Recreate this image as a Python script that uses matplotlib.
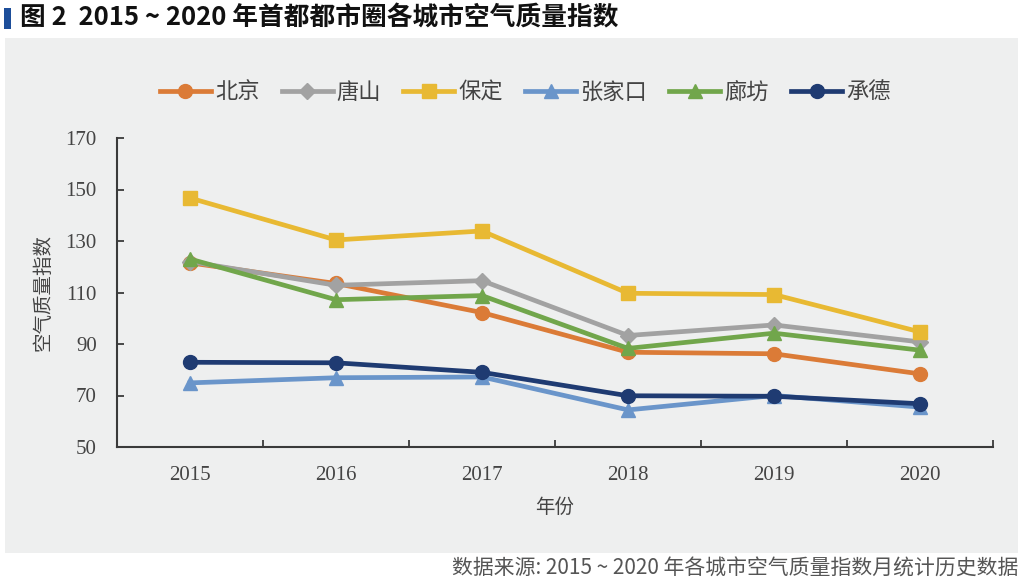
import matplotlib
matplotlib.use("Agg")
import matplotlib.pyplot as plt
from matplotlib.patches import Rectangle
import numpy as np

plt.rcParams['font.family'] = ['Noto Sans CJK SC', 'DejaVu Sans']

# 数据
years = ['2015', '2016', '2017', '2018', '2019', '2020']
beijing = [121.5, 113.5, 102.2, 86.8, 86.2, 78.4]
tangshan = [122.0, 112.8, 114.6, 93.3, 97.4, 90.8]
baoding = [146.7, 130.4, 133.9, 109.7, 109.2, 94.7]
zhangjiakou = [74.9, 76.9, 77.2, 64.4, 70.0, 65.5]
langfang = [123.0, 107.2, 108.8, 88.3, 94.2, 87.6]
chengde = [82.9, 82.7, 79.0, 69.9, 69.7, 66.8]

series = [
    ('北京', beijing, '#DB7B37', 'o'),
    ('唐山', tangshan, '#A2A2A2', 'D'),
    ('保定', baoding, '#E8B933', 's'),
    ('张家口', zhangjiakou, '#6A95CA', '^'),
    ('廊坊', langfang, '#71A64B', '^'),
    ('承德', chengde, '#1F3B72', 'o'),
]

fig = plt.figure(figsize=(10.24, 5.85), dpi=100)
fig.patch.set_facecolor('white')

# 灰色背景
bg = Rectangle((5 / 1024, 1 - 553 / 585), 1013 / 1024, 515 / 585,
               transform=fig.transFigure, facecolor='#EEEFEF', edgecolor='none', zorder=-10)
fig.patches.append(bg)

# 标题
fig.patches.append(Rectangle((4 / 1024, 1 - 29 / 585), 7 / 1024, 21 / 585,
                             transform=fig.transFigure, facecolor='#1D4E9A', edgecolor='none',
                             zorder=-5))
fig.text(20 / 1024, 1 - 18 / 585, '图 2  2015 ~ 2020 年首都都市圈各城市空气质量指数',
         fontsize=18.5, fontweight='bold', va='center', ha='left', color='#111111')

ax = fig.add_axes([117 / 1024, 1 - 447 / 585, 876 / 1024, 309 / 585])
ax.set_facecolor('none')

x = np.arange(len(years))
for name, vals, color, marker in series:
    ms = 10 if marker != 'D' else 8
    ax.plot(x, vals, color=color, lw=3.4, marker=marker, ms=ms,
            markeredgecolor=color, label=name)

ax.set_xlim(-0.5, len(years) - 0.5)
ax.set_ylim(50, 170)
ax.set_yticks(np.arange(50, 171, 20))
ax.set_xticks(x)
ax.set_xticklabels(years)
ax.set_xticks(np.arange(0.5, len(years), 1.0), minor=True)

for sp in ['top', 'right']:
    ax.spines[sp].set_visible(False)
for sp in ['left', 'bottom']:
    ax.spines[sp].set_color('#3A3A3A')
    ax.spines[sp].set_linewidth(1.5)

ax.tick_params(axis='y', direction='in', length=5, width=1.3, color='#3A3A3A', pad=14.5)
ax.tick_params(axis='x', which='major', length=0, pad=14)
ax.tick_params(axis='x', which='minor', direction='in', length=5, width=1.3, color='#3A3A3A')

for lab in ax.get_xticklabels() + ax.get_yticklabels():
    lab.set_fontfamily('Liberation Serif')
    lab.set_fontsize(15)
    lab.set_color('#444444')
for lab in ax.get_yticklabels():
    lab.set_horizontalalignment('right')

ax.set_xlabel('年份', fontsize=14, color='#444444', labelpad=8)
ax.set_ylabel('空气质量指数', fontsize=14, color='#444444', labelpad=9)

leg = ax.legend(loc='lower center', bbox_to_anchor=(0.466, 1.083), ncol=6, frameon=False,
                fontsize=16, handlelength=2.3, columnspacing=1.0, handletextpad=0.18,
                labelcolor='#444444', borderaxespad=0)

fig.text(1018 / 1024, 1 - 569 / 585, '数据来源: 2015 ~ 2020 年各城市空气质量指数月统计历史数据',
         fontsize=15, ha='right', va='center', color='#555555', fontweight='light')

fig.savefig('out.png', dpi=100)
